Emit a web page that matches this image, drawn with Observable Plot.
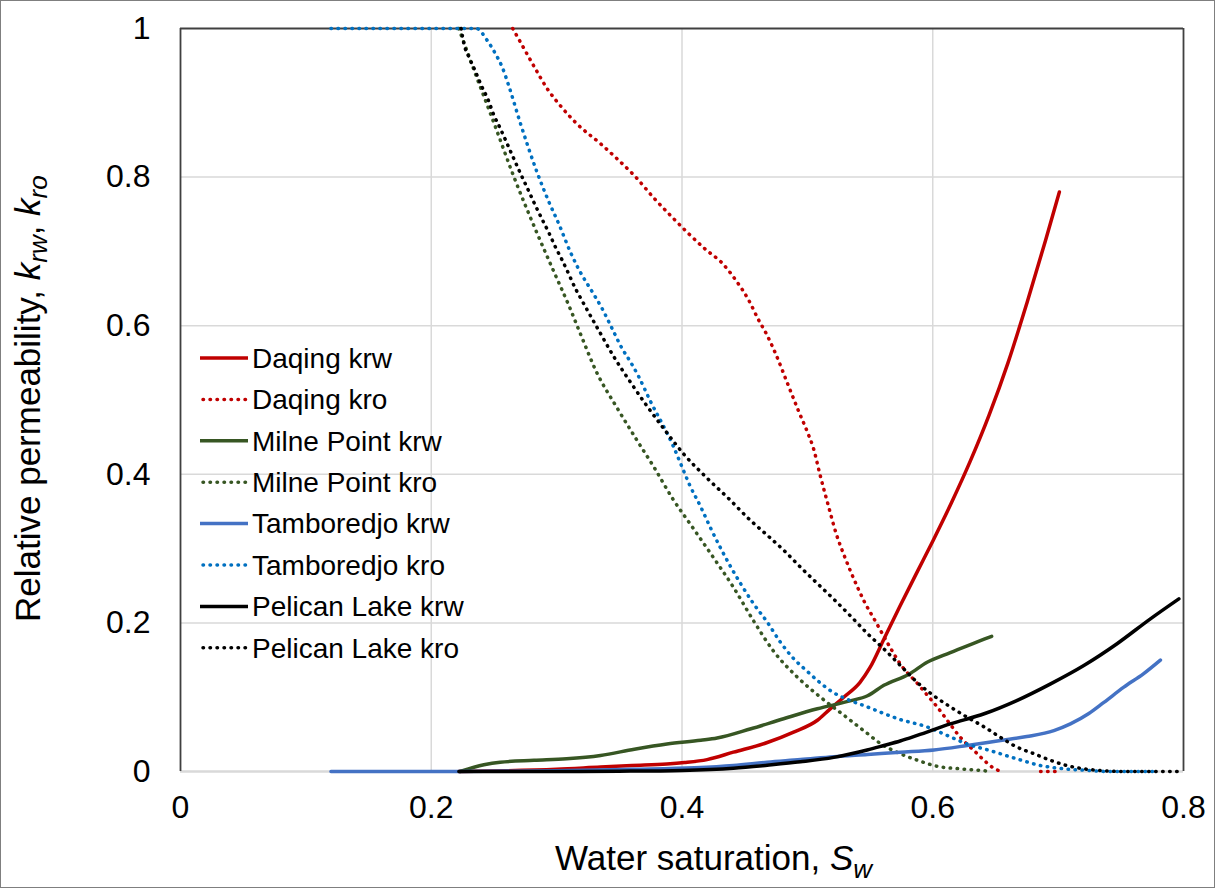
<!DOCTYPE html>
<html><head><meta charset="utf-8">
<script src="https://cdn.jsdelivr.net/npm/d3@7"></script>
<script src="https://cdn.jsdelivr.net/npm/@observablehq/plot@0.6"></script>
<style>
body{margin:0;background:#fff;}
#chart{position:relative;width:1215px;height:888px;}
</style></head><body><div id="chart"></div>
<script>
// ---- axis ticks ----
const xTicks = [0, 0.2, 0.4, 0.6, 0.8];
const xTickLabels = ["0", "0.2", "0.4", "0.6", "0.8"];
const yTicks = [0, 0.2, 0.4, 0.6, 0.8, 1];
const yTickLabels = ["0", "0.2", "0.4", "0.6", "0.8", "1"];

// ---- series meta ----
const seriesNames = ["Daqing krw", "Daqing kro", "Milne Point krw", "Milne Point kro",
  "Tamboredjo krw", "Tamboredjo kro", "Pelican Lake krw", "Pelican Lake kro"];
const seriesColors = ["#C00000", "#C00000", "#375623", "#375623", "#4472C4", "#0070C0", "#000000", "#000000"];
const seriesDotted = [false, true, false, true, false, true, false, true];

// ---- data: [Sw, kr] ----
const daqingKrw = [[0.222,0],[0.26,0.001],[0.30,0.003],[0.335,0.006],[0.36,0.008],[0.388,0.010],[0.402,0.012],
  [0.42,0.016],[0.441,0.026],[0.468,0.039],[0.489,0.053],[0.508,0.069],[0.518,0.084],[0.529,0.100],[0.542,0.120],
  [0.550,0.140],[0.561,0.178],[0.574,0.223],[0.588,0.270],[0.60,0.31],[0.615,0.362],[0.63,0.418],[0.645,0.48],
  [0.66,0.55],[0.675,0.63],[0.69,0.715],[0.701,0.78]];
const daqingKro = [[0.265,1.0],[0.27,0.985],[0.283,0.946],[0.2925,0.919],[0.303,0.896],[0.316,0.872],[0.335,0.845],
  [0.348,0.825],[0.362,0.802],[0.378,0.771],[0.391,0.748],[0.404,0.726],[0.420,0.701],[0.431,0.686],[0.443,0.661],
  [0.453,0.635],[0.461,0.608],[0.467,0.590],[0.475,0.561],[0.484,0.523],[0.493,0.485],[0.500,0.457],[0.505,0.434],
  [0.510,0.400],[0.517,0.356],[0.523,0.320],[0.530,0.288],[0.540,0.248],[0.545,0.230],[0.554,0.203],[0.566,0.167],
  [0.574,0.145],[0.588,0.118],[0.597,0.100],[0.6035,0.087],[0.6115,0.069],[0.622,0.046],[0.633,0.028],[0.641,0.015],
  [0.649,0.004],[0.655,0],[0.67,null],[0.686,0],[0.70,0]];
const milneKrw = [[0.223,0],[0.242,0.009],[0.255,0.0125],[0.282,0.015],[0.308,0.017],[0.335,0.0215],[0.362,0.030],
  [0.388,0.037],[0.415,0.042],[0.428,0.045],[0.455,0.0575],[0.481,0.071],[0.508,0.0844],[0.534,0.095],[0.548,0.102],
  [0.561,0.116],[0.581,0.131],[0.5955,0.147],[0.614,0.160],[0.635,0.174],[0.647,0.182]];
const milneKro = [[0.222,1.0],[0.235,0.94],[0.25,0.873],[0.266,0.80],[0.283,0.73],[0.298,0.672],[0.3098,0.627],
  [0.319,0.589],[0.332,0.537],[0.348,0.490],[0.364,0.446],[0.3775,0.410],[0.393,0.366],[0.407,0.332],[0.423,0.293],
  [0.441,0.248],[0.457,0.203],[0.473,0.162],[0.492,0.127],[0.5105,0.100],[0.532,0.072],[0.548,0.051],[0.558,0.038],
  [0.574,0.024],[0.588,0.015],[0.6035,0.007],[0.622,0.0036],[0.641,0.001],[0.646,0]];
const tambKrw = [[0.12,0],[0.222,0],[0.30,0.001],[0.36,0.003],[0.41,0.005],[0.441,0.008],[0.468,0.0125],[0.4945,0.016],
  [0.521,0.020],[0.548,0.023],[0.574,0.026],[0.601,0.029],[0.6275,0.035],[0.654,0.0417],[0.675,0.047],[0.6966,0.055],
  [0.7098,0.064],[0.7245,0.078],[0.7365,0.093],[0.7524,0.1135],[0.768,0.1315],[0.7816,0.150]];
const tambKro = [[0.12,1],[0.236,1],[0.2446,0.984],[0.2512,0.966],[0.2566,0.948],[0.262,0.922],[0.271,0.873],
  [0.2845,0.806],[0.294,0.766],[0.302,0.736],[0.311,0.699],[0.317,0.678],
  [0.3297,0.642],[0.336,0.624],[0.344,0.597],[0.352,0.570],[0.359,0.551],[0.365,0.533],[0.3755,0.496],[0.387,0.459],
  [0.393,0.438],[0.400,0.410],[0.406,0.386],[0.415,0.356],[0.423,0.327],[0.431,0.300],[0.439,0.275],[0.4467,0.253],
  [0.457,0.226],[0.468,0.201],[0.4785,0.174],[0.489,0.152],[0.4998,0.135],[0.5105,0.119],[0.521,0.106],[0.532,0.097],
  [0.5477,0.087],[0.561,0.078],[0.574,0.070],[0.5955,0.060],[0.6115,0.0485],[0.6275,0.037],[0.646,0.028],
  [0.667,0.017],[0.686,0.008],[0.7045,0.0036],[0.7258,0.0013],[0.74,0],[0.78,0]];
const pelicanKrw = [[0.222,0],[0.30,0],[0.35,0.0004],[0.40,0.0015],[0.441,0.0045],[0.468,0.0085],[0.4945,0.013],
  [0.521,0.019],[0.534,0.0235],[0.5477,0.029],[0.561,0.035],[0.574,0.041],[0.5876,0.0485],[0.614,0.064],[0.641,0.0777],
  [0.667,0.0955],[0.694,0.118],[0.7205,0.1427],[0.747,0.172],[0.7736,0.2055],[0.7963,0.2324]];
const pelicanKro = [[0.2238,1.0],[0.226,0.980],[0.2305,0.960],[0.2353,0.942],[0.240,0.923],[0.2454,0.904],
  [0.2498,0.884],[0.2552,0.865],[0.26,0.847],[0.265,0.828],[0.2725,0.800],[0.2778,0.781],[0.283,0.762],[0.2885,0.743],
  [0.294,0.7245],[0.299,0.706],[0.3045,0.688],[0.3098,0.669],[0.315,0.650],[0.3177,0.6416],[0.3355,0.588],[0.345,0.560],
  [0.3585,0.525],[0.372,0.492],[0.387,0.458],[0.402,0.426],[0.4193,0.396],[0.4368,0.368],[0.4546,0.338],[0.468,0.318],
  [0.481,0.298],[0.4945,0.275],[0.508,0.253],[0.521,0.232],[0.534,0.210],[0.5477,0.186],[0.561,0.165],[0.574,0.143],
  [0.5876,0.120],[0.6008,0.102],[0.614,0.087],[0.6275,0.073],[0.641,0.060],[0.654,0.046],[0.667,0.033],[0.6806,0.024],
  [0.694,0.015],[0.707,0.008],[0.7205,0.0036],[0.734,0.0013],[0.75,0],[0.796,0]];

const seriesData = [daqingKrw, daqingKro, milneKrw, milneKro, tambKrw, tambKro, pelicanKrw, pelicanKro];

const FONT = "'Liberation Sans', Arial, sans-serif";
const frameColor = "#404040";
const gridColor = "#D9D9D9";

function lineStyle(i) {
  return seriesDotted[i]
    ? {strokeWidth: 3.5, strokeDasharray: "0.5 6.5", strokeLinecap: "round"}
    : {strokeWidth: 3.5, strokeLinecap: "round", strokeLinejoin: "round"};
}

const marks = [
  Plot.ruleX(xTicks.slice(1, -1), {stroke: gridColor, strokeWidth: 1.5}),
  Plot.ruleY(yTicks.slice(1, -1), {stroke: gridColor, strokeWidth: 1.5}),
  Plot.ruleY([0], {stroke: gridColor, strokeWidth: 2.5}),
  Plot.ruleX([xTicks[0], xTicks[xTicks.length - 1]], {stroke: frameColor, strokeWidth: 1.8}),
  Plot.ruleY([yTicks[yTicks.length - 1]], {stroke: frameColor, strokeWidth: 1.8})
];
seriesData.forEach((data, i) => {
  marks.push(Plot.line(data, {
    x: d => d[0], y: d => d[1], stroke: seriesColors[i], curve: "monotone-x", ...lineStyle(i)
  }));
});

const plot = Plot.plot({
  width: 1215, height: 888,
  marginLeft: 180, marginRight: 32, marginTop: 28, marginBottom: 117,
  style: {fontFamily: FONT, fontSize: "32px", color: "#000", background: "#fff", overflow: "visible"},
  x: {domain: [0, 0.8], ticks: xTicks, tickFormat: d => xTickLabels[xTicks.indexOf(d)], tickSize: 0, tickPadding: 24, label: null},
  y: {domain: [0, 1], ticks: yTicks, tickFormat: d => yTickLabels[yTicks.indexOf(d)], tickSize: 0, tickPadding: 30, label: null},
  marks
});
document.getElementById("chart").appendChild(plot);

const svg = d3.select(plot);
// outer border
svg.append("rect").attr("x", 0.5).attr("y", 0.5).attr("width", 1214).attr("height", 887)
  .attr("fill", "none").attr("stroke", "#7F7F7F").attr("stroke-width", 1);

// axis titles
const xt = svg.append("text").attr("x", 555).attr("y", 870).attr("text-anchor", "start")
  .style("font-family", FONT).style("font-size", "35px").attr("fill", "#000");
xt.append("tspan").text("Water saturation, ");
xt.append("tspan").attr("font-style", "italic").text("S");
xt.append("tspan").attr("font-style", "italic").attr("font-size", "26px").attr("dy", 8).text("w");

const yt = svg.append("text").attr("transform", "translate(40,622) rotate(-90)").attr("text-anchor", "start")
  .style("font-family", FONT).style("font-size", "35px").attr("fill", "#000");
yt.append("tspan").text("Relative permeability, ");
yt.append("tspan").attr("font-style", "italic").text("k");
yt.append("tspan").attr("font-style", "italic").attr("font-size", "26px").attr("dy", 7).text("rw");
yt.append("tspan").attr("dy", -7).text(", ");
yt.append("tspan").attr("font-style", "italic").text("k");
yt.append("tspan").attr("font-style", "italic").attr("font-size", "26px").attr("dy", 7).text("ro");

// legend
const legend = svg.append("g").attr("text-anchor", "start");
seriesNames.forEach((name, i) => {
  const y = 358 + i * 41.4;
  const st = lineStyle(i);
  legend.append("line").attr("x1", seriesDotted[i] ? 203 : 200).attr("x2", seriesDotted[i] ? 246 : 248).attr("y1", y).attr("y2", y)
    .attr("stroke", seriesColors[i]).attr("stroke-width", st.strokeWidth)
    .attr("stroke-dasharray", st.strokeDasharray || null).attr("stroke-linecap", seriesDotted[i] ? "round" : "butt");
  legend.append("text").attr("x", 252).attr("y", y).attr("dy", "0.35em").attr("text-anchor", "start")
    .style("font-family", FONT).style("font-size", "28px").attr("fill", "#000").text(name);
});
</script></body></html>
